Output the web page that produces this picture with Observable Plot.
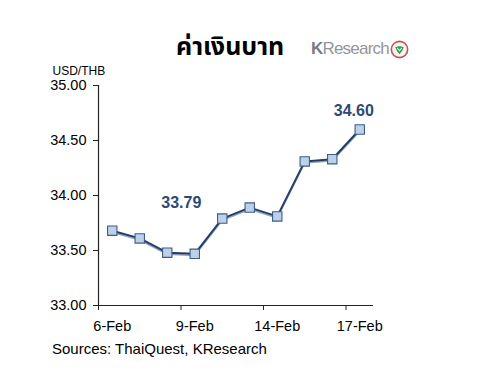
<!DOCTYPE html>
<html>
<head>
<meta charset="utf-8">
<script src="https://cdn.jsdelivr.net/npm/d3@7"></script>
<script src="https://cdn.jsdelivr.net/npm/@observablehq/plot@0.6"></script>
<style>
  html, body { margin: 0; padding: 0; background: #fff; }
  body { width: 488px; height: 372px; overflow: hidden; font-family: "Liberation Sans", Arial, sans-serif; }
  #header { position: relative; height: 62px; }
  #title { position: absolute; left: 176px; top: 32px; font-size: 25px; font-weight: bold; color: #000;
           font-family: "Noto Sans Thai", "Noto Sans Thai UI", Tahoma, "Liberation Sans", sans-serif; line-height: 30px; white-space: nowrap; }
  #logo { position: absolute; left: 311px; top: 38px; height: 22px; display: flex; align-items: center; }
  #logo .t { font-family: "Liberation Sans", Arial, sans-serif; font-size: 17px; color: #959595; letter-spacing: -0.8px; line-height: 22px; }
  #logo .t b { color: #7c7c7c; }
  #caption { margin-top: 2px; padding-left: 52px; font-size: 15px; line-height: 18px; color: #000; }
</style>
</head>
<body>
<div id="header">
  <div id="title">ค่าเงินบาท</div>
  <div id="logo"><span class="t"><b>K</b>Research</span>
    <svg width="19" height="19" viewBox="0 0 20 20" style="margin-left:1px">
      <circle cx="10" cy="10" r="8.6" fill="#f4f4f4" stroke="#c9504d" stroke-width="1.7"/>
      <path d="M5.5 7.5 Q10 5.5 14.5 7.5 Q13 12 10 15 Q7 12 5.5 7.5 Z" fill="#2f9b4c"/>
      <path d="M7.5 8.2 L10 11.2 L12.5 8.2" fill="none" stroke="#e9f5e9" stroke-width="1.2"/>
    </svg>
  </div>
</div>
<div id="chart"></div>
<div id="caption">Sources: ThaiQuest, KResearch</div>
<script>
// ---- data ----
const dates = ["6-Feb", "7-Feb", "8-Feb", "9-Feb", "10-Feb", "13-Feb", "14-Feb", "15-Feb", "16-Feb", "17-Feb"];
const rates = [33.68, 33.61, 33.48, 33.47, 33.79, 33.89, 33.81, 34.31, 34.33, 34.60];
const xTickLabels = ["6-Feb", "9-Feb", "14-Feb", "17-Feb"];
const yTicks = [33.0, 33.5, 34.0, 34.5, 35.0];
const annotLabels = ["33.79", "34.60"];
const annotDates = ["10-Feb", "17-Feb"];
const yUnit = "USD/THB";

// ---- build table ----
const table = dates.map((d, i) => ({date: d, rate: rates[i], pos: i + 0.5}));
const labelPos = xTickLabels.map(l => dates.indexOf(l) + 0.5);
const boundaryPos = xTickLabels.map(l => dates.indexOf(l));
const annots = annotLabels.map((l, i) => {
  const k = dates.indexOf(annotDates[i]);
  return {label: l, pos: k + 0.5, rate: rates[k]};
});

const navy = "#233e66";
const markFill = "#bcd0e8";
const markStroke = "#3d5d8a";
const annotColor = "#2d4a72";

const chart = Plot.plot({
  width: 488,
  height: 276,
  marginLeft: 98,
  marginRight: 115,
  marginTop: 23,
  marginBottom: 33,
  style: {fontFamily: "'Liberation Sans', Arial, sans-serif", color: "#000", background: "#fff"},
  x: {type: "linear", domain: [0, dates.length]},
  y: {domain: [33, 35]},
  marks: [
    // y axis
    Plot.axisY({ticks: yTicks, tickFormat: d3.format(".2f"), tickSize: 5, tickPadding: 7, fontSize: 14.5, label: null, stroke: "#222"}),
    Plot.ruleX([0], {stroke: "#222", strokeWidth: 1.2}),
    // x axis tick marks at category boundaries
    Plot.axisX({ticks: boundaryPos, tickFormat: () => "", tickSize: 5, label: null, stroke: "#222"}),
    // x axis labels at category centres
    Plot.axisX({ticks: labelPos, tickFormat: v => dates[Math.round(v - 0.5)], tickSize: 0, tickPadding: 15, fontSize: 14.5, label: null}),
    Plot.ruleY([33], {stroke: "#222", strokeWidth: 1.2}),
    // unit label
    Plot.text([yUnit], {frameAnchor: "top-left", dx: -46, dy: -19, textAnchor: "start", fontSize: 12, fill: "#000"}),
    // line shadow + line
    Plot.line(table, {x: "pos", y: "rate", stroke: "#8fa4c2", strokeWidth: 1.6, dy: 1.6}),
    Plot.line(table, {x: "pos", y: "rate", stroke: navy, strokeWidth: 2}),
    // markers
    Plot.dot(table, {x: "pos", y: "rate", symbol: "square", r: 5.3, fill: markFill, stroke: markStroke, strokeWidth: 1.1}),
    // annotations
    Plot.text(annots.slice(0, 1), {x: "pos", y: "rate", text: "label", dx: -41, dy: -16, fontSize: 16, fontWeight: "bold", fill: annotColor}),
    Plot.text(annots.slice(1), {x: "pos", y: "rate", text: "label", dx: -6, dy: -19, fontSize: 16, fontWeight: "bold", fill: annotColor})
  ]
});
document.getElementById("chart").appendChild(chart);
</script>
</body>
</html>
